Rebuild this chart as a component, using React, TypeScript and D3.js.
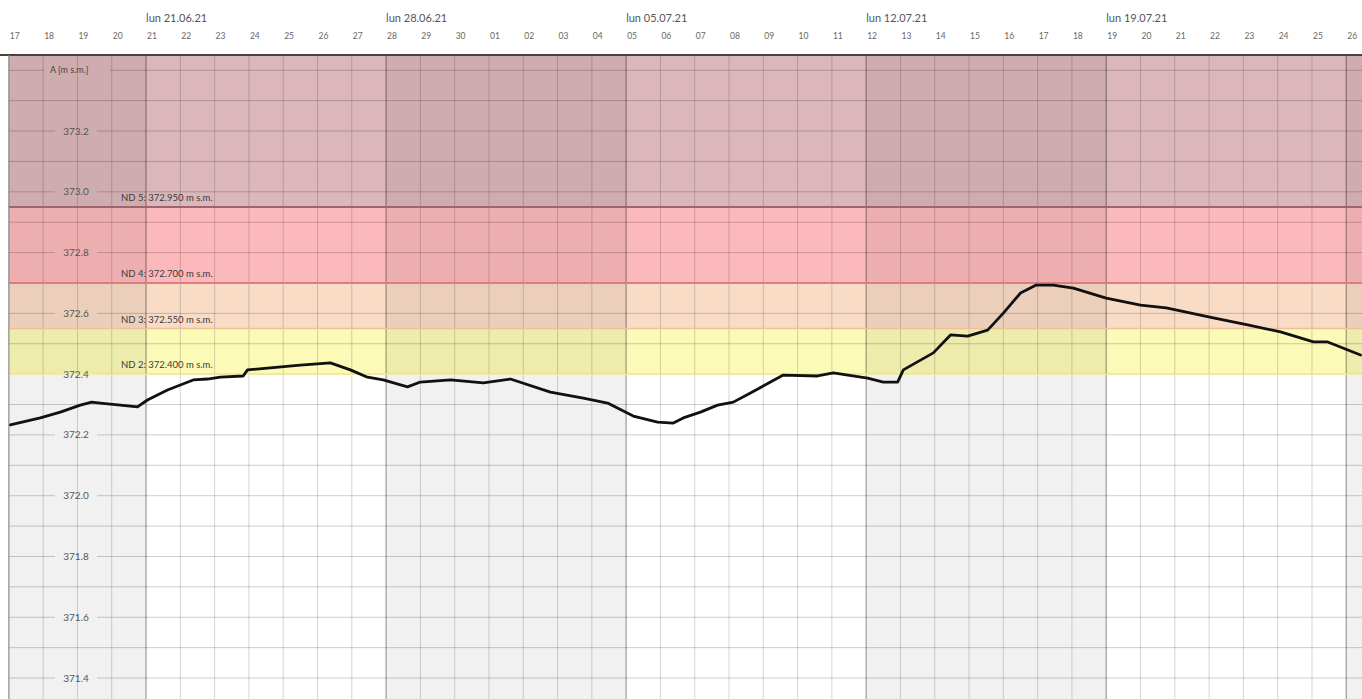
import React from "react";
import * as d3 from "d3";

// ---- data ----
const obsTimes = [
  "2021-06-17T01:00", "2021-06-17T22:00", "2021-06-18T12:00", "2021-06-19T02:00", "2021-06-19T10:00",
  "2021-06-19T16:00", "2021-06-20T06:00", "2021-06-20T18:00", "2021-06-21T01:00", "2021-06-21T15:00",
  "2021-06-22T09:00", "2021-06-22T19:00", "2021-06-23T04:00", "2021-06-23T20:00", "2021-06-23T23:00",
  "2021-06-24T13:00", "2021-06-25T12:00", "2021-06-26T09:00", "2021-06-26T23:00", "2021-06-27T11:00",
  "2021-06-27T22:00", "2021-06-28T15:00", "2021-06-29T00:00", "2021-06-29T21:00", "2021-06-30T20:00",
  "2021-07-01T15:00", "2021-07-02T19:00", "2021-07-03T18:00", "2021-07-04T11:00", "2021-07-05T05:00",
  "2021-07-05T22:00", "2021-07-06T09:00", "2021-07-06T16:00", "2021-07-07T04:00", "2021-07-07T16:00",
  "2021-07-08T03:00", "2021-07-08T15:00", "2021-07-09T14:00", "2021-07-10T14:00", "2021-07-11T01:00",
  "2021-07-12T01:00", "2021-07-12T12:00", "2021-07-12T22:00", "2021-07-13T02:00", "2021-07-13T23:00",
  "2021-07-14T11:00", "2021-07-14T23:00", "2021-07-15T13:00", "2021-07-16T00:00", "2021-07-16T12:00",
  "2021-07-16T23:00", "2021-07-17T11:00", "2021-07-18T01:00", "2021-07-19T00:00", "2021-07-20T00:00",
  "2021-07-20T18:00", "2021-07-22T03:00", "2021-07-23T03:00", "2021-07-24T02:00", "2021-07-25T01:00",
  "2021-07-25T11:00", "2021-07-26T10:00",
];
const obsLevels = [
  372.233, 372.256, 372.275, 372.298, 372.308,
  372.305, 372.298, 372.292, 372.315, 372.348,
  372.381, 372.384, 372.39, 372.394, 372.414,
  372.42, 372.43, 372.437, 372.414, 372.39,
  372.381, 372.358, 372.374, 372.381, 372.371,
  372.384, 372.341, 372.321, 372.305, 372.262,
  372.242, 372.239, 372.256, 372.275, 372.298,
  372.308, 372.338, 372.397, 372.394, 372.404,
  372.387, 372.374, 372.374, 372.414, 372.47,
  372.529, 372.525, 372.545, 372.601, 372.667,
  372.693, 372.693, 372.683, 372.65, 372.627,
  372.618, 372.585, 372.562, 372.539, 372.506,
  372.506, 372.463,
];

const thresholdNames = ["ND 2", "ND 3", "ND 4", "ND 5"];
const thresholdValues = [372.4, 372.55, 372.7, 372.95];
const bandColors = ["#ffffff", "#fbfab6", "#f9dcc6", "#fbb9bb", "#dbb7bb"];
const thresholdLineColors = ["#f3e9a0", "#efbf98", "#e07b80", "#a0646c"];

const yTickValues = [371.4, 371.6, 371.8, 372.0, 372.2, 372.4, 372.6, 372.8, 373.0, 373.2];
const yAxisTitle = "A [m s.m.]";
const dayNames = ["dom", "lun", "mar", "mer", "gio", "ven", "sab"];

const W = 1362;
const H = 699;

export default function App() {
  const start = new Date(2021, 5, 17);
  const end = d3.timeHour.offset(start, 947);
  const x = d3.scaleTime().domain([start, end]).range([8.86, W]);
  const y = d3.scaleLinear().domain([371.331, 373.447]).range([H, 56]);
  const top = 55;
  const left = x(start);

  const data = obsTimes.map((t, i) => ({ t: new Date(t), v: obsLevels[i] }));
  const line = d3
    .line<{ t: Date; v: number }>()
    .x((d) => x(d.t))
    .y((d) => y(d.v));

  const days = d3.timeDay.range(start, end);
  const mondays = d3.timeMonday.range(start, end).filter((d) => x(d) + 70 < W);
  const shadedWeeks = d3.timeMonday
    .range(d3.timeMonday.floor(start), end)
    .filter((_, i) => i % 2 === 0);

  const minorTicks = d3.range(3714, 3735).map((v) => v / 10);
  const yMax = y.domain()[1];
  const bandEdges = [y.domain()[0], ...thresholdValues, yMax];

  const fmtDay = d3.timeFormat("%d");
  const fmtWeek = (d: Date) => `${dayNames[d.getDay()]} ${d3.timeFormat("%d.%m.%y")(d)}`;

  const gap = (v: number): [number, number] | null => {
    if (Math.abs(v - 373.4) < 1e-6) return [44, 110];
    if (yTickValues.some((t) => Math.abs(t - v) < 1e-6)) return [55, 97];
    return null;
  };

  const font = "Lato, 'Open Sans', sans-serif";

  return (
    <svg
      width={W}
      height={H}
      style={{ position: "absolute", left: 0, top: 0, background: "#fff", fontFamily: font }}
    >
      {/* bands */}
      {bandColors.map((c, i) => (
        <rect
          key={"b" + i}
          x={left}
          width={W - left}
          y={y(bandEdges[i + 1])}
          height={y(bandEdges[i]) - y(bandEdges[i + 1])}
          fill={c}
        />
      ))}
      {/* alternating week shading */}
      {shadedWeeks.map((w, i) => {
        const x0 = Math.max(left, x(w));
        const x1 = Math.min(W, x(d3.timeWeek.offset(w, 1)));
        return (
          <rect key={"w" + i} x={x0} width={x1 - x0} y={top} height={H - top} fill="rgba(0,0,0,0.055)" />
        );
      })}
      {/* horizontal grid */}
      {minorTicks.map((v, i) => {
        const g = gap(v);
        const yy = y(v);
        if (yy < top) return null;
        return g ? (
          <g key={"h" + i}>
            <line x1={left} x2={g[0]} y1={yy} y2={yy} stroke="rgba(0,0,0,0.2)" />
            <line x1={g[1]} x2={W} y1={yy} y2={yy} stroke="rgba(0,0,0,0.2)" />
          </g>
        ) : (
          <line key={"h" + i} x1={left} x2={W} y1={yy} y2={yy} stroke="rgba(0,0,0,0.2)" />
        );
      })}
      {/* vertical day grid */}
      {days.map((d, i) => {
        const isMon = d.getDay() === 1;
        return (
          <line
            key={"v" + i}
            x1={x(d)}
            x2={x(d)}
            y1={top}
            y2={H}
            stroke={isMon ? "rgba(0,0,0,0.32)" : "rgba(0,0,0,0.17)"}
            strokeWidth={isMon ? 1.4 : 1}
          />
        );
      })}
      {/* threshold lines */}
      {thresholdValues.map((v, i) => (
        <line
          key={"t" + i}
          x1={left}
          x2={W}
          y1={y(v)}
          y2={y(v)}
          stroke={thresholdLineColors[i]}
          strokeWidth={i >= 2 ? 2 : 1.5}
        />
      ))}
      {/* threshold labels */}
      {thresholdValues.map((v, i) => (
        <text key={"tl" + i} x={121} y={y(v) - 6} fontSize={9.5} fill="#3a3a3a">
          {`${thresholdNames[i]}: ${v.toFixed(3)} m s.m.`}
        </text>
      ))}
      {/* y tick labels */}
      {yTickValues.map((v, i) => (
        <text key={"yl" + i} x={76} y={y(v)} dy="0.35em" textAnchor="middle" fontSize={10} fill="#555">
          {v.toFixed(1)}
        </text>
      ))}
      <text x={50} y={y(373.4)} dy="0.35em" fontSize={9} fill="#444">
        {yAxisTitle}
      </text>
      {/* data line */}
      <path
        d={line(data) || ""}
        fill="none"
        stroke="#111"
        strokeWidth={2.8}
        strokeLinejoin="round"
        strokeLinecap="round"
      />
      {/* header */}
      <rect x={0} y={0} width={W} height={top} fill="#fff" />
      {days.map((d, i) => (
        <text key={"dl" + i} x={x(d) + 1} y={36} dy="0.35em" fontSize={8.5} fill="#666">
          {fmtDay(d)}
        </text>
      ))}
      {mondays.map((d, i) => (
        <text key={"ml" + i} x={x(d)} y={18} dy="0.35em" fontSize={11} fill="#555">
          {fmtWeek(d)}
        </text>
      ))}
      <line x1={0} x2={W} y1={top} y2={top} stroke="#4a4040" strokeWidth={2} />
      <line x1={left} x2={left} y1={top} y2={H} stroke="#888" strokeWidth={1} />
    </svg>
  );
}
